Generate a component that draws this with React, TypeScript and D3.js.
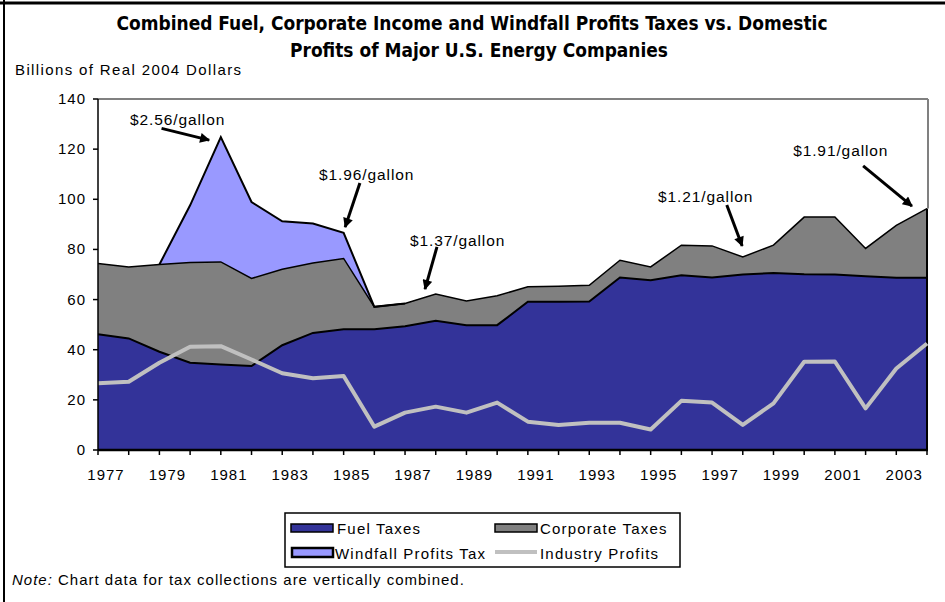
import React from 'react';
import * as d3 from 'd3';

const years = [1977, 1978, 1979, 1980, 1981, 1982, 1983, 1984, 1985, 1986, 1987, 1988, 1989, 1990,
	1991, 1992, 1993, 1994, 1995, 1996, 1997, 1998, 1999, 2000, 2001, 2002, 2003, 2004];
const fuelTaxes = [46.2, 44.5, 39.2, 34.8, 34.1, 33.5, 41.8, 46.7, 48.2, 48.2, 49.4, 51.5, 49.8, 49.8,
	59.1, 59.1, 59.2, 68.8, 67.7, 69.7, 68.8, 70.0, 70.6, 70.1, 70.0, 69.3, 68.7, 68.7];
const corporateTaxes = [28.2, 28.5, 34.8, 40.0, 40.9, 34.9, 30.3, 27.9, 28.2, 8.9, 9.0, 10.7, 9.6, 11.7,
	6.0, 6.2, 6.5, 6.9, 5.3, 12.0, 12.6, 7.0, 11.1, 22.8, 22.9, 11.1, 20.9, 27.6];
const windfallTaxes = [0, 0, 0, 22.8, 49.8, 30.5, 19.1, 15.7, 10.2, 0, 0, 0, 0, 0,
	0, 0, 0, 0, 0, 0, 0, 0, 0, 0, 0, 0, 0, 0];
const industryProfits = [26.6, 27.2, 34.8, 41.2, 41.4, 36.1, 30.6, 28.6, 29.5, 9.3, 14.9, 17.3, 14.9, 18.9,
	11.3, 10.0, 10.9, 10.9, 8.2, 19.6, 18.9, 10.0, 18.6, 35.2, 35.3, 16.6, 32.5, 42.5];
const yTicks = [0, 20, 40, 60, 80, 100, 120, 140];
const xLabels = [1977, 1979, 1981, 1983, 1985, 1987, 1989, 1991, 1993, 1995, 1997, 1999, 2001, 2003];

// price notes: text anchor, arrow start, arrow tip (year, value)
const notes = [
	{ text: '$2.56/gallon', at: [1978.04, 129.8], from: [1979.07, 128.3], to: [1980.62, 123.6] },
	{ text: '$1.96/gallon', at: [1984.2, 107.7], from: [1985.53, 106.5], to: [1985.05, 88.9] },
	{ text: '$1.37/gallon', at: [1987.16, 81.4], from: [1988.04, 81.0], to: [1987.65, 64.2] },
	{ text: '$1.21/gallon', at: [1995.24, 98.9], from: [1997.48, 97.7], to: [1997.98, 81.4] },
	{ text: '$1.91/gallon', at: [1999.64, 117.3], from: [2001.92, 113.3], to: [2003.51, 97.3] },
];

const FUEL = '#333399';
const CORP = '#808080';
const WIND = '#9999FF';
const PROFIT = '#C0C0C0';
const FONT = '"Liberation Sans", Arial, sans-serif';
const TITLE_FONT = '"DejaVu Sans Condensed", "Liberation Sans Narrow", "Liberation Sans", sans-serif';

const App = () => {
	const m = { l: 98, r: 927, t: 99, b: 450 };
	const x = d3.scaleLinear().domain([1977, 2004]).range([m.l, m.r]);
	const y = d3.scaleLinear().domain([0, 140]).range([m.b, m.t]);

	const rows = years.map((yr, i) => {
		const f = fuelTaxes[i];
		const c = f + corporateTaxes[i];
		const w = c + windfallTaxes[i];
		return { yr, f, c, w, p: industryProfits[i], i };
	});

	const area = (lo, hi) => d3.area().x(d => x(d.yr)).y0(d => y(lo(d))).y1(d => y(hi(d)));
	const top = (hi) => d3.line().x(d => x(d.yr)).y(d => y(hi(d)));

	const windRows = rows.filter(d => d.i >= 2 && d.i <= 10);

	return (
		<svg width={945} height={602} style={{ position: 'absolute', left: 0, top: 0 }} fontFamily={FONT}>
			<defs>
				<marker id="arr" viewBox="0 0 10 10" refX="9" refY="5" markerWidth="11" markerHeight="10"
					markerUnits="userSpaceOnUse" orient="auto">
					<path d="M0,0 L10,5 L0,10 z" fill="#000" />
				</marker>
			</defs>
			<rect width={945} height={602} fill="#fff" />
			<line x1={0} x2={945} y1={3} y2={3} stroke="#000" strokeWidth={3} />
			<line x1={4} x2={4} y1={0} y2={602} stroke="#000" strokeWidth={2} />

			<text x={472} y={30} textAnchor="middle" fontFamily={TITLE_FONT}
				fontWeight="bold" fontSize={20} textLength={711} lengthAdjust="spacingAndGlyphs">
				Combined Fuel, Corporate Income and Windfall Profits Taxes vs. Domestic
			</text>
			<text x={479} y={57} textAnchor="middle" fontFamily={TITLE_FONT}
				fontWeight="bold" fontSize={20} textLength={378} lengthAdjust="spacingAndGlyphs">
				Profits of Major U.S. Energy Companies
			</text>
			<text x={15} y={75} fontSize={15} textLength={226}>Billions of Real 2004 Dollars</text>

			{/* stacked areas */}
			<path d={area(d => d.c, d => d.w)(rows)} fill={WIND} />
			<path d={area(d => d.f, d => d.c)(rows)} fill={CORP} />
			<path d={area(() => 0, d => d.f)(rows)} fill={FUEL} />
			<path d={top(d => d.w)(windRows)} fill="none" stroke="#000" strokeWidth={2} />
			<path d={top(d => d.c)(rows)} fill="none" stroke="#000" strokeWidth={1.5} />
			<path d={top(d => d.f)(rows)} fill="none" stroke="#000" strokeWidth={2} />
			<line x1={m.r} x2={m.r} y1={y(rows[27].w)} y2={m.b} stroke="#000" strokeWidth={2} />

			<path d={top(d => d.p)(rows)} fill="none" stroke={PROFIT} strokeWidth={4} strokeLinejoin="round" />

			{/* frame */}
			<line x1={m.l} x2={m.r + 1} y1={m.t} y2={m.t} stroke="#808080" strokeWidth={2} />
			<line x1={m.r + 1} x2={m.r + 1} y1={m.t} y2={y(rows[27].w)} stroke="#808080" strokeWidth={2} />
			<line x1={m.l} x2={m.l} y1={m.t} y2={m.b} stroke="#000" strokeWidth={1.5} />
			<line x1={m.l} x2={m.r + 1} y1={m.b} y2={m.b} stroke="#000" strokeWidth={2.5} />

			{yTicks.map(t => (
				<g key={t}>
					<line x1={m.l - 5} x2={m.l} y1={y(t)} y2={y(t)} stroke="#000" strokeWidth={1.5} />
					<text x={86} y={y(t) + 5} textAnchor="end" fontSize={15} letterSpacing={1}>{t}</text>
				</g>
			))}
			{years.map(yr => (
				<line key={yr} x1={x(yr)} x2={x(yr)} y1={m.b} y2={m.b + 5} stroke="#000" strokeWidth={1.5} />
			))}
			{xLabels.map(yr => (
				<text key={yr} x={x(yr) + 8} y={480} textAnchor="middle" fontSize={15} letterSpacing={1}>{yr}</text>
			))}

			{notes.map(n => (
				<g key={n.text}>
					<text x={x(n.at[0])} y={y(n.at[1])} fontSize={15.5} letterSpacing={0.9}>{n.text}</text>
					<line x1={x(n.from[0])} y1={y(n.from[1])} x2={x(n.to[0])} y2={y(n.to[1])}
						stroke="#000" strokeWidth={3} markerEnd="url(#arr)" />
				</g>
			))}

			{/* legend */}
			<rect x={285} y={513} width={395} height={54} fill="#fff" stroke="#000" strokeWidth={1.5} />
			<rect x={291} y={524} width={42} height={8} fill={FUEL} stroke="#000" strokeWidth={1.5} />
			<text x={337} y={534} fontSize={15} letterSpacing={1.2}>Fuel Taxes</text>
			<rect x={495} y={524} width={42} height={8} fill={CORP} stroke="#000" strokeWidth={1.5} />
			<text x={540} y={534} fontSize={15} letterSpacing={1.2}>Corporate Taxes</text>
			<rect x={292} y={548} width={41} height={9} fill={WIND} stroke="#000" strokeWidth={2.5} />
			<text x={335} y={559} fontSize={15} letterSpacing={1.2}>Windfall Profits Tax</text>
			<line x1={495} x2={537} y1={552} y2={552} stroke={PROFIT} strokeWidth={4} />
			<text x={540} y={559} fontSize={15} letterSpacing={1.2}>Industry Profits</text>

			<text x={12} y={585} fontSize={15} letterSpacing={1}>
				<tspan fontStyle="italic">Note:</tspan> Chart data for tax collections are vertically combined.
			</text>
		</svg>
	);
};

export default App;
